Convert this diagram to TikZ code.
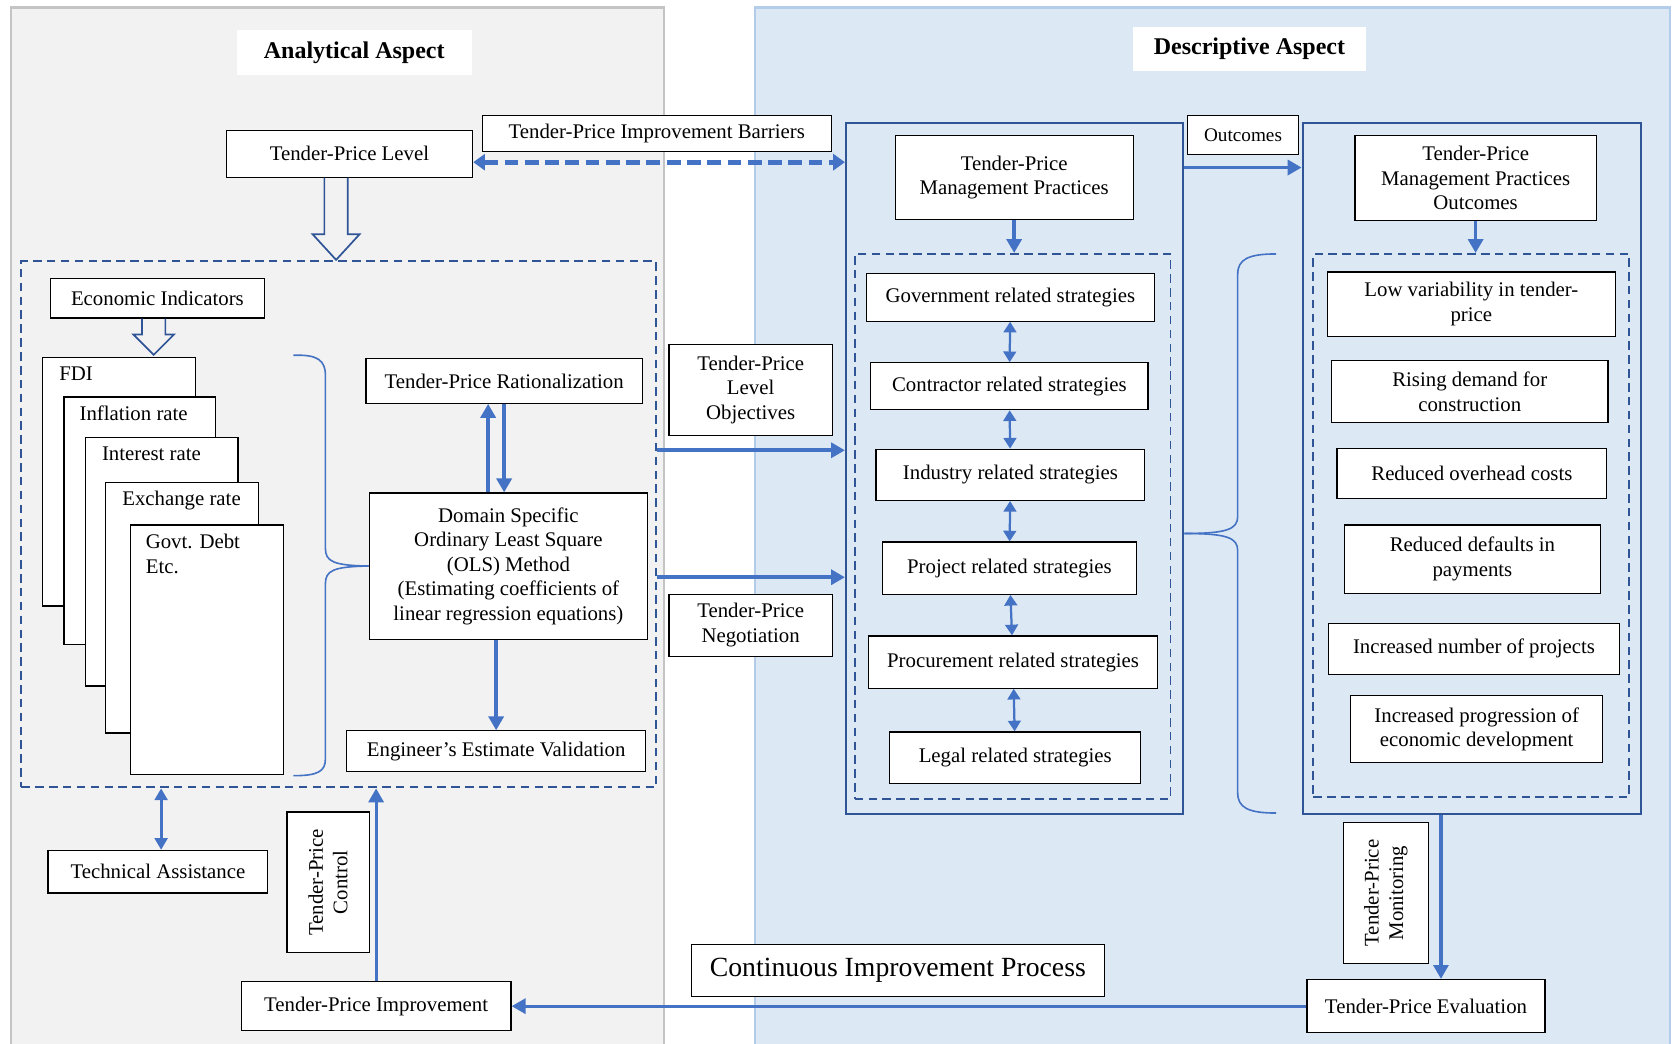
\documentclass[tikz,border=0pt]{standalone}
\usepackage{fontspec}
\setmainfont{Liberation Serif}
\usetikzlibrary{graphs}
\usetikzlibrary{calc}
\usetikzlibrary{arrows.meta}
\definecolor{panelgray}{HTML}{F2F2F2}
\definecolor{panelgrayline}{HTML}{C4C4C4}
\definecolor{panelblue}{HTML}{DDE8F5}
\definecolor{panelblueline}{HTML}{B2CCEA}
\definecolor{zoneblue}{HTML}{2F5597}
\definecolor{flowblue}{HTML}{4472C4}
\newcommand{\bodyfont}{\fontsize{19.5}{23}\selectfont}
\tikzset{
  box/.style= {draw, fill=white, align=center, inner sep=2pt, line width=1.1pt, font=\bodyfont},
  card/.style= {draw, fill=white, line width=1.1pt},
  cardtext/.style= {anchor=north west, align=left, inner sep=2pt, font=\bodyfont},
  heading/.style= {fill=white, font=\fontsize{22.5}{27}\selectfont\bfseries},
  zone/.style= {draw=zoneblue, line width=1.8pt, dash pattern=on 8pt off 5pt},
  frame/.style= {draw=zoneblue, line width=2.2pt},
  flow/.style= {draw=flowblue, line width=3.4pt, -{Triangle[length=13pt, width=14pt]}},
  flowboth/.style= {draw=flowblue, line width=2.6pt, {Triangle[length=11pt, width=12pt]}-{Triangle[length=11pt, width=12pt]}},
  barrier/.style= {draw=flowblue, line width=4.5pt, dash pattern=on 13pt off 6pt, {Triangle[length=11pt, width=15pt]}-{Triangle[length=11pt, width=15pt]}},
  link/.style= {draw=flowblue, line width=2.1pt},
  hollow/.style= {draw=zoneblue, line width=1.6pt},
  brace/.style= {draw=flowblue, line width=1.5pt},
}

\begin{document}
\begin{tikzpicture}[x=1pt, y=-1pt, >={Triangle[length=10pt, width=12pt]}]
  \useasboundingbox (0,0) rectangle (1568,978);

  \fill [panelgray, draw=panelgrayline, line width=2pt] (10,7) rectangle (622,990);
  \fill [panelblue, draw=panelblueline, line width=2pt] (708,7) rectangle (1565,990);

  \node [heading, minimum width=220pt, minimum height=42pt] (analytic) at (332,49) {Analytical Aspect};
  \node [heading, minimum width=218pt, minimum height=42pt] (descriptive) at (1171,46) {Descriptive Aspect};

  % analytical side
  \node [box, minimum width=231pt, minimum height=44pt] (tpl) at (327.5,144) {Tender-Price Level};
  \node [box, minimum width=327pt, minimum height=34pt] (barr) at (615.5,125) {Tender-Price Improvement Barriers};

  \node [zone, minimum width=595pt, minimum height=493pt] (leftzone) at (317.5,491.5) {};
  \node [box, minimum width=201pt, minimum height=37pt] (econ) at (147.5,279.5) {Economic Indicators};

  \node [card, minimum width=143pt, minimum height=233pt] (fdi) at (111.5,451.5) {};
  \node [card, minimum width=142pt, minimum height=232pt] (infl) at (131,488) {};
  \node [card, minimum width=143pt, minimum height=233pt] (intr) at (151.5,526.5) {};
  \node [card, minimum width=143pt, minimum height=235pt] (exch) at (170.5,569.5) {};
  \node [card, minimum width=144pt, minimum height=234pt] (debt) at (194,609) {};
  \node [cardtext] (fditxt) at ($(fdi.north west)+(14,7)$) {FDI};
  \node [cardtext] (infltxt) at ($(infl.north west)+(13,7)$) {Inflation rate};
  \node [cardtext] (intrtxt) at ($(intr.north west)+(14,7)$) {Interest rate};
  \node [cardtext] (exchtxt) at ($(exch.north west)+(14,7)$) {Exchange rate};
  \node [cardtext] (debttxt) at ($(debt.north west)+(13,7)$) {Govt. Debt\\Etc.};

  \node [box, minimum width=259pt, minimum height=42pt] (rat) at (472.5,357) {Tender-Price Rationalization};
  \node [box, minimum width=261pt, minimum height=137pt] (ols) at (476.5,530.5)
    {Domain Specific\\Ordinary Least Square\\(OLS) Method\\(Estimating coefficients of\\linear regression equations)};
  \node [box, minimum width=280pt, minimum height=38pt] (eev) at (465,704) {Engineer’s Estimate Validation};

  \node [box, minimum width=206pt, minimum height=40pt] (tech) at (148,817) {Technical Assistance};
  \node [box, rotate=90, minimum width=132pt, minimum height=77pt] (ctrl) at (307.5,827) {Tender-Price\\Control};
  \node [box, minimum width=253pt, minimum height=46pt] (impr) at (352.5,943) {Tender-Price Improvement};

  \node [box, minimum width=387pt, minimum height=49pt, font=\fontsize{26}{30}\selectfont] (cip) at (841.5,909.5) {Continuous Improvement Process};

  \node [box, minimum width=153pt, minimum height=85pt] (obj) at (703.5,365.5) {Tender-Price\\Level\\Objectives};
  \node [box, minimum width=153pt, minimum height=58pt] (neg) at (703.5,586) {Tender-Price\\Negotiation};
  \coordinate (lvl) at (700,422);
  \coordinate (ngt) at (700,541);

  % descriptive side
  \node [frame, minimum width=316pt, minimum height=648pt] (mid) at (951,439) {};
  \node [box, minimum width=223pt, minimum height=79pt] (tpmp) at (950.5,166.5) {Tender-Price\\Management Practices};
  \node [zone, minimum width=296pt, minimum height=511pt] (middash) at (949,493.5) {};
  \node [box, minimum width=270pt, minimum height=45pt] (gov) at (947,278.5) {Government related strategies};
  \node [box, minimum width=260pt, minimum height=44pt] (con) at (946,362) {Contractor related strategies};
  \node [box, minimum width=252pt, minimum height=48pt] (ind) at (947,445) {Industry related strategies};
  \node [box, minimum width=238pt, minimum height=49pt] (prj) at (946,532.5) {Project related strategies};
  \node [box, minimum width=271pt, minimum height=49pt] (prc) at (949.5,620.5) {Procurement related strategies};
  \node [box, minimum width=235pt, minimum height=48pt] (leg) at (951.5,710) {Legal related strategies};

  \node [box, minimum width=104pt, minimum height=37pt, font=\fontsize{18}{22}\selectfont] (outl) at (1165,126.5) {Outcomes};
  \coordinate (oc) at (1165,157);

  \node [frame, minimum width=317pt, minimum height=648pt] (res) at (1379.5,439) {};
  \node [box, minimum width=226pt, minimum height=80pt] (tpmpo) at (1383,167) {Tender-Price\\Management Practices\\Outcomes};
  \node [zone, minimum width=296pt, minimum height=509pt] (resdash) at (1379,492.5) {};
  \node [box, minimum width=270pt, minimum height=60pt] (low) at (1379,285) {Low variability in tender-\\price};
  \node [box, minimum width=259pt, minimum height=58pt] (rise) at (1377.5,367) {Rising demand for\\construction};
  \node [box, minimum width=253pt, minimum height=47pt] (ovh) at (1379.5,443.5) {Reduced overhead costs};
  \node [box, minimum width=240pt, minimum height=64pt] (dflt) at (1380,524) {Reduced defaults in\\payments};
  \node [box, minimum width=273pt, minimum height=48pt] (num) at (1381.5,608) {Increased number of projects};
  \node [box, minimum width=236pt, minimum height=63pt] (prog) at (1384,683.5) {Increased progression of\\economic development};

  \node [box, rotate=90, minimum width=132pt, minimum height=80pt] (mon) at (1299,837) {Tender-Price\\Monitoring};
  \node [box, minimum width=223pt, minimum height=50pt] (eval) at (1336.5,943) {Tender-Price Evaluation};

  % block arrows and braces
  \draw [hollow] ([xshift=-23.5pt]tpl.south) -- ++(0,53) -- ++(-11,0) -- ++(22,24) -- ++(22,-24) -- ++(-11,0) -- ++(0,-53);
  \draw [hollow] ([xshift=-14.5pt]econ.south) -- ++(0,15) -- ++(-8,0) -- ++(19,19) -- ++(19,-19) -- ++(-8,0) -- ++(0,-15);

  \draw [brace] (275,333) .. controls (298,332) and (305,338) .. (305,352) -- (305,514)
    .. controls (305,526) and (312,530) .. (ols.west);
  \draw [brace] (ols.west) .. controls (312,531) and (305,535) .. (305,547) -- (305,711)
    .. controls (305,723) and (298,727) .. (275,727);
  \draw [brace] (1196,238) .. controls (1170,238) and (1160,243) .. (1160,257) -- (1160,484)
    .. controls (1160,496) and (1150,500) .. (mid.east |- 0,500);
  \draw [brace] (mid.east |- 0,500) .. controls (1150,500) and (1160,504) .. (1160,516) -- (1160,743)
    .. controls (1160,757) and (1170,762) .. (1196,762);

  % connectors
  \draw [barrier] ([yshift=-8pt]tpl.east) -- ([yshift=-8pt]tpl.east -| mid.west);
  \draw [flow] ([xshift=-15pt]rat.south |- ols.north) -- ([xshift=-15pt]rat.south);
  \draw [flow] (rat.south) -- (rat.south |- ols.north);
  \draw [flow] (eev.north |- ols.south) -- (eev.north);
  \draw [flowboth] ([xshift=3pt]tech.north |- leftzone.south) -- ([xshift=3pt]tech.north);
  \draw [flow, line width=3pt] (impr.north) -- (impr.north |- leftzone.south);
  \draw [flow, line width=3pt] (eval.west) -- (impr.east);
  \draw [flow, line width=3pt] ([xshift=14pt]eval.north |- res.south) -- ([xshift=14pt]eval.north);
  \draw [flow] (lvl -| leftzone.east) -- (lvl -| mid.west);
  \draw [flow] (ngt -| leftzone.east) -- (ngt -| mid.west);
  \draw [flow] (tpmp.south) -- (tpmp.south |- middash.north);
  \draw [flow] (tpmpo.south) -- (tpmpo.south |- resdash.north);
  \draw [flow] (oc -| mid.east) -- (oc -| res.west);

  \graph [edges=link] {
    (gov) <-> (con) <-> (ind) <-> (prj) <-> (prc) <-> (leg) ;
  } ;
\end{tikzpicture}
\end{document}
